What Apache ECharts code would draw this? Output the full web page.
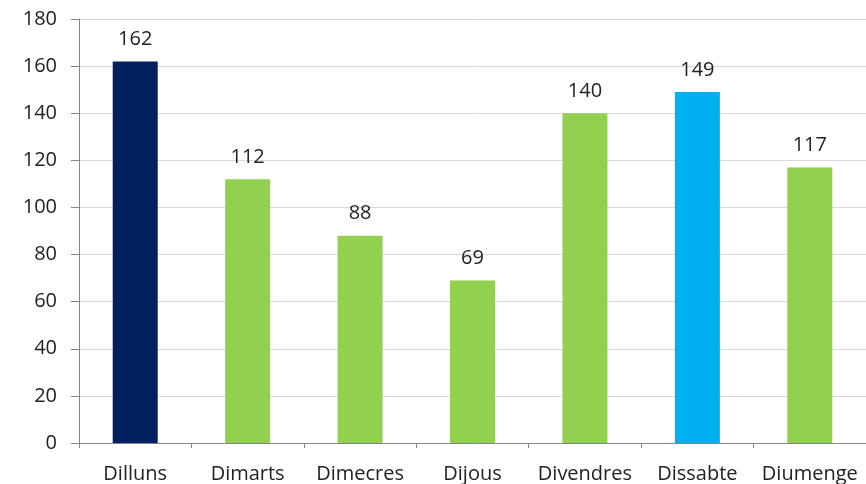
<!DOCTYPE html>
<html>
<head>
<meta charset="utf-8">
<script src="https://cdn.jsdelivr.net/npm/echarts@6/dist/echarts.min.js"></script>
<style>
  html, body { margin: 0; padding: 0; background: #fff; }
  #main { width: 866px; height: 484px; }
</style>
</head>
<body>
<div id="main"></div>
<script>
var days = ['Dilluns', 'Dimarts', 'Dimecres', 'Dijous', 'Divendres', 'Dissabte', 'Diumenge'];
var counts = [162, 112, 88, 69, 140, 149, 117];
var barColors = ['#002060', '#92D050', '#92D050', '#92D050', '#92D050', '#00B0F0', '#92D050'];

var chart = echarts.init(document.getElementById('main'));
var font = 'Open Sans, Lato, sans-serif';

chart.setOption({
  animation: false,
  grid: { left: 79, right: -4, top: 19, bottom: 41 },
  xAxis: {
    type: 'category',
    data: days,
    axisLine: { lineStyle: { color: '#868686', width: 1 } },
    axisTick: { show: true, length: 5, lineStyle: { color: '#868686' } },
    axisLabel: { color: '#222', fontSize: 20, fontFamily: font, margin: 21, interval: 0 }
  },
  yAxis: {
    type: 'value',
    min: 0,
    max: 180,
    interval: 20,
    axisLine: { show: true, lineStyle: { color: '#868686', width: 1 } },
    axisTick: { show: true, length: 8, lineStyle: { color: '#868686' } },
    axisLabel: { color: '#222', fontSize: 20, fontFamily: font, margin: 22 },
    splitLine: { lineStyle: { color: '#d9d9d9', width: 1 } }
  },
  series: [{
    type: 'bar',
    barWidth: 45,
    data: counts.map(function (v, i) {
      return { value: v, itemStyle: { color: barColors[i] } };
    }),
    label: {
      show: true,
      position: 'top',
      distance: 12,
      color: '#222',
      fontSize: 20,
      fontFamily: font
    }
  }]
});
</script>
</body>
</html>
